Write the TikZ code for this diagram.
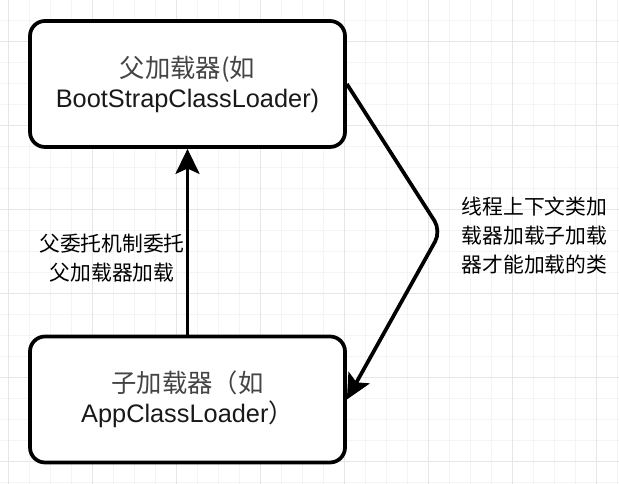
\documentclass[tikz,border=0pt]{standalone}
\usepackage{fontspec}
\setmainfont{Liberation Sans}
\newfontfamily\cjk{Noto Sans CJK SC}
\usetikzlibrary{arrows.meta}

\definecolor{gridmajor}{HTML}{E6E6E6}
\definecolor{gridminor}{HTML}{F4F4F4}
\definecolor{boxcjk}{HTML}{444444}

\tikzset{every picture/.style={line width=0.75pt}}
\tikzset{
  loaderbox/.style={draw, line width=2.8pt, rounded corners=11.25pt, fill=white,
    minimum width=236.25pt, minimum height=94.5pt, inner sep=0pt, align=center,
    text=black!90, font=\fontsize{19}{22.5}\selectfont},
  sidelabel/.style={inner sep=0pt, align=center, font=\cjk\fontsize{15.6}{21.75}\selectfont},
  flowarrow/.style={draw, line width=2.8pt, -{Stealth[length=18.75pt,width=18pt,inset=4pt]}},
}

\begin{document}
\begin{tikzpicture}[x=0.75pt,y=0.75pt,yscale=-1,xscale=1]
	\useasboundingbox (0,0) rectangle (619,484);

	%Grid
	\foreach \gx in {8,29,...,617} \draw[gridminor] (\gx,0) -- (\gx,484);
	\foreach \gy in {0,21,...,484} \draw[gridminor] (0,\gy) -- (619,\gy);
	\foreach \gx in {8,92,...,617} \draw[gridmajor] (\gx,0) -- (\gx,484);
	\foreach \gy in {42,126,...,484} \draw[gridmajor] (0,\gy) -- (619,\gy);

	%Rounded Rect
	\node[loaderbox] (parent) at (187.5,84) {{\cjk\color{boxcjk}父加载器(如}\\BootStrapClassLoader)};
	%Rounded Rect
	\node[loaderbox] (child) at (187.5,399.5) {{\cjk\color{boxcjk}子加载器（如}\\AppClassLoader{\cjk ）}};

	%Straight Lines
	\draw[flowarrow] (child) -- (parent);
	%Bent Line
	\coordinate (bend) at (441,231);
	\draw[flowarrow, rounded corners=9pt] (parent.east) -- (bend) -- (child.east);

	% Text Node
	\node[sidelabel] (delegate) at (112,258) {父委托机制委托\\父加载器加载};
	% Text Node
	\node[sidelabel] (ctxload) at (534.5,236) {线程上下文类加\\载器加载子加载\\器才能加载的类};
\end{tikzpicture}
\end{document}
